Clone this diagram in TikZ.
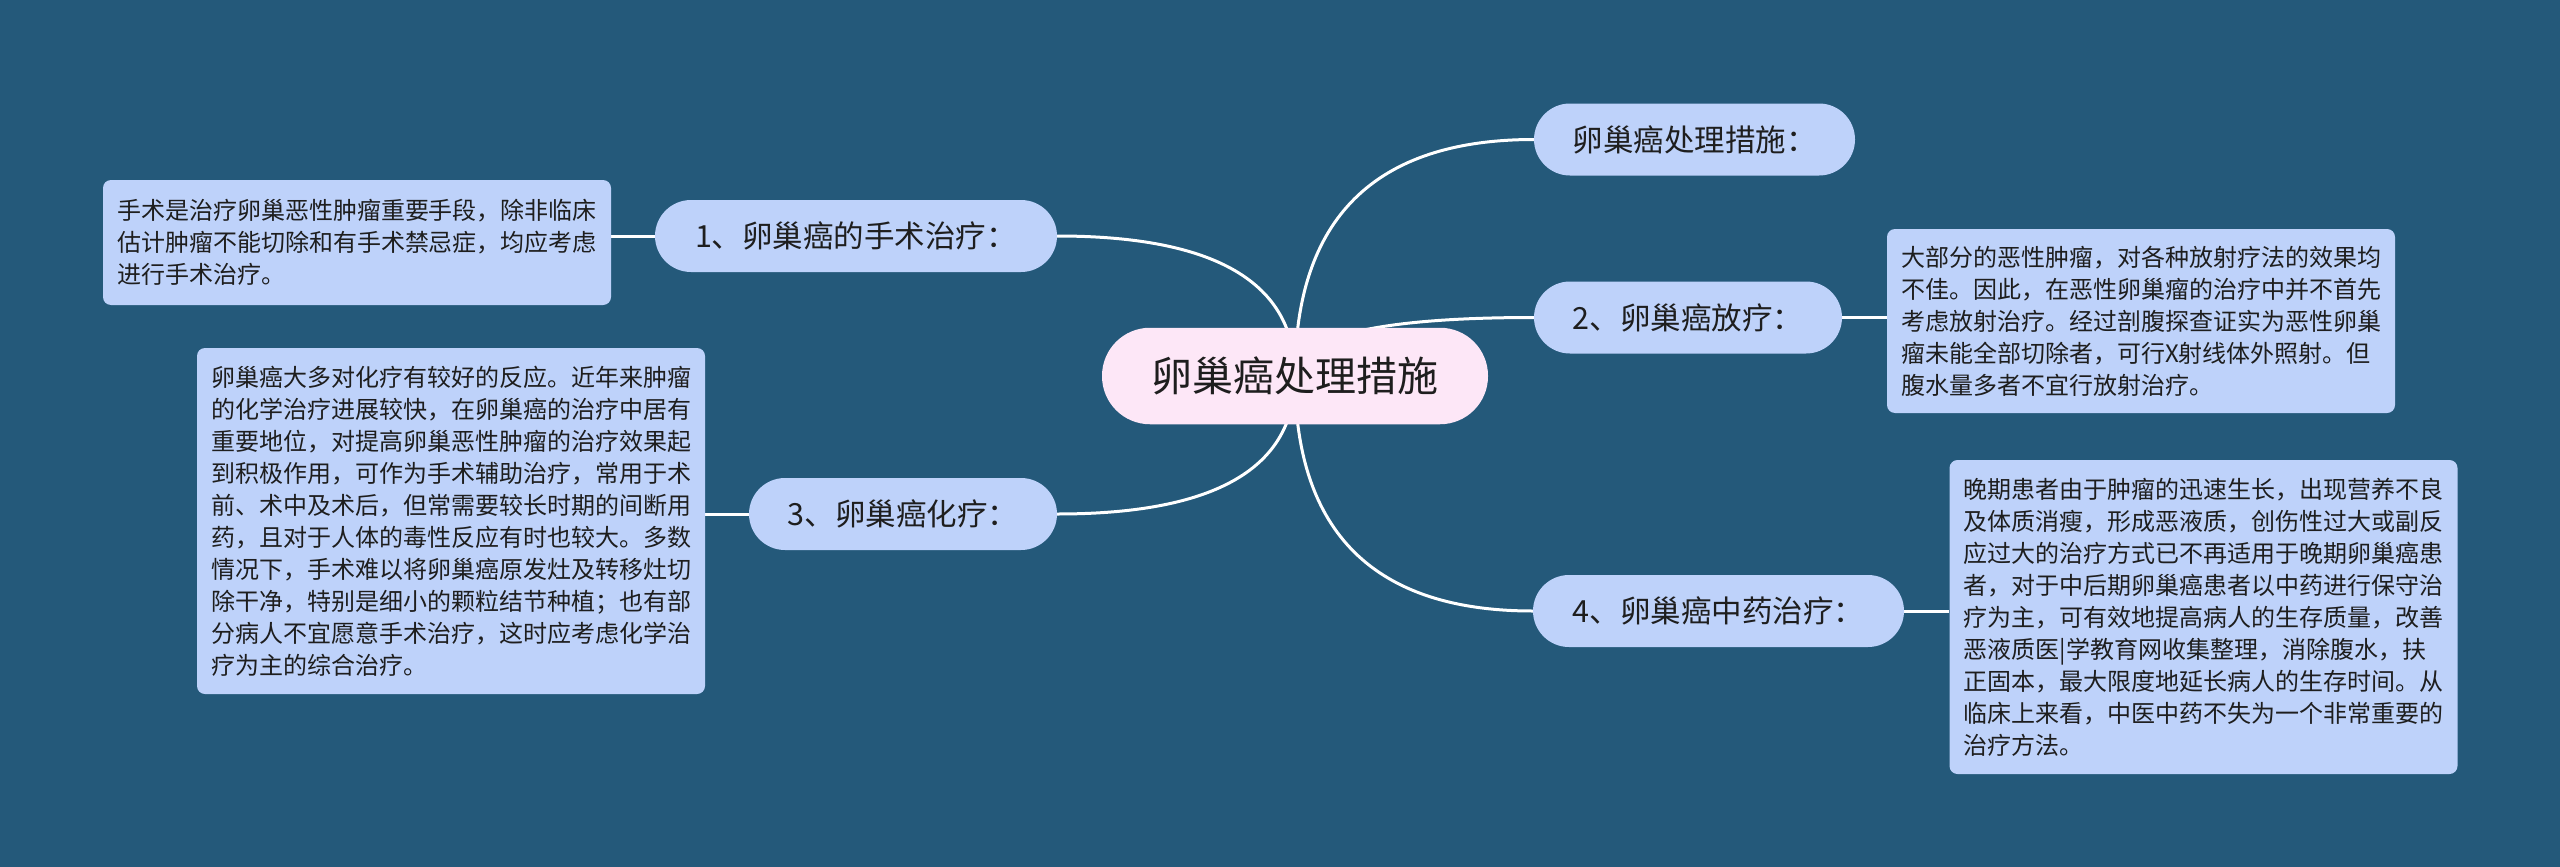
\documentclass[tikz,border=0pt]{standalone}
\usepackage{fontspec}
\setmainfont{Noto Sans CJK SC}
\usetikzlibrary{calc}
\definecolor{bgblue}{RGB}{36,89,122}
\definecolor{nodeblue}{RGB}{190,210,250}
\definecolor{centerpink}{RGB}{253,231,247}
\definecolor{txt}{RGB}{30,30,30}
\pgfdeclarelayer{bglayer}
\pgfdeclarelayer{edgelayer}
\pgfsetlayers{bglayer,edgelayer,main}
\tikzset{
  centerbox/.style={fill=centerpink, rounded corners=48pt, minimum width=386pt, minimum height=96.5pt, inner sep=0pt, text=txt, font=\fontsize{41}{48}\selectfont},
  branch/.style={fill=nodeblue, rounded corners=36pt, minimum height=72pt, inner sep=0pt, text=txt, font=\fontsize{30.5}{36}\selectfont},
  leaf/.style={fill=nodeblue, rounded corners=8pt, inner xsep=14pt, inner ysep=0pt, text width=480pt, align=left, text=txt, font=\fontsize{24}{32}\selectfont},
  link/.style={draw=white, line width=3pt}
}
\begin{document}
\begin{tikzpicture}[x=1pt,y=-1pt]
\begin{pgfonlayer}{bglayer}
\fill[bgblue] (0,0) rectangle (2560,867);
\end{pgfonlayer}
\useasboundingbox (0,0) rectangle (2560,867);

\node[centerbox] (c) at (1295,376) {卵巢癌处理措施};

\node[branch, minimum width=321pt] (r1) at (1694.5,139.5) {卵巢癌处理措施：};
\node[branch, minimum width=308pt] (r2) at (1688,317.5) {2、卵巢癌放疗：};
\node[branch, minimum width=371pt] (r4) at (1718.5,611) {4、卵巢癌中药治疗：};
\node[branch, minimum width=402pt] (l1) at (856,236) {1、卵巢癌的手术治疗：};
\node[branch, minimum width=308pt] (l3) at (903,514) {3、卵巢癌化疗：};

\node[leaf, minimum height=125pt] (b1) at (357,242.5) {手术是治疗卵巢恶性肿瘤重要手段，除非临床\\估计肿瘤不能切除和有手术禁忌症，均应考虑\\进行手术治疗。};
\node[leaf, minimum height=346pt] (b3) at (451,521) {卵巢癌大多对化疗有较好的反应。近年来肿瘤\\的化学治疗进展较快，在卵巢癌的治疗中居有\\重要地位，对提高卵巢恶性肿瘤的治疗效果起\\到积极作用，可作为手术辅助治疗，常用于术\\前、术中及术后，但常需要较长时期的间断用\\药，且对于人体的毒性反应有时也较大。多数\\情况下，手术难以将卵巢癌原发灶及转移灶切\\除干净，特别是细小的颗粒结节种植；也有部\\分病人不宜愿意手术治疗，这时应考虑化学治\\疗为主的综合治疗。};
\node[leaf, minimum height=184pt] (b2) at (2141,321) {大部分的恶性肿瘤，对各种放射疗法的效果均\\不佳。因此，在恶性卵巢瘤的治疗中并不首先\\考虑放射治疗。经过剖腹探查证实为恶性卵巢\\瘤未能全部切除者，可行X射线体外照射。但\\腹水量多者不宜行放射治疗。};
\node[leaf, minimum height=314pt] (b4) at (2203.5,617) {晚期患者由于肿瘤的迅速生长，出现营养不良\\及体质消瘦，形成恶液质，创伤性过大或副反\\应过大的治疗方式已不再适用于晚期卵巢癌患\\者，对于中后期卵巢癌患者以中药进行保守治\\疗为主，可有效地提高病人的生存质量，改善\\恶液质医|学教育网收集整理，消除腹水，扶\\正固本，最大限度地延长病人的生存时间。从\\临床上来看，中医中药不失为一个非常重要的\\治疗方法。};

\begin{pgfonlayer}{edgelayer}
\foreach \n in {r1,r2,r4} {
  \draw[link] (c.center) .. controls ($(c.center)!2/3!(c.center |- \n.west)$) and ($(\n.west)!2/3!(c.center |- \n.west)$) .. (\n.west);
}
\foreach \n in {l1,l3} {
  \draw[link] (c.center) .. controls ($(c.center)!2/3!(c.center |- \n.east)$) and ($(\n.east)!2/3!(c.center |- \n.east)$) .. (\n.east);
}
\draw[link] (l1.west) -- (l1.west -| b1.east);
\draw[link] (l3.west) -- (l3.west -| b3.east);
\draw[link] (r2.east) -- (r2.east -| b2.west);
\draw[link] (r4.east) -- (r4.east -| b4.west);
\end{pgfonlayer}
\end{tikzpicture}
\end{document}
